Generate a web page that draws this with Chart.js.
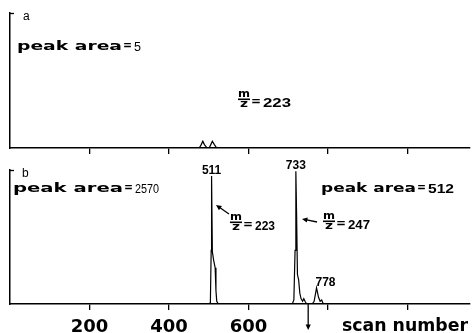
<!DOCTYPE html>
<html>
<head>
<meta charset="utf-8">
<script src="https://cdn.jsdelivr.net/npm/chart.js@4.4.0/dist/chart.umd.min.js"></script>
<style>
    html, body { margin: 0; padding: 0; background: #fff; }
    #wrap { position: relative; width: 473px; height: 333px; overflow: hidden; }
    canvas { position: absolute; left: 0; }
</style>
</head>
<body>
<div id="wrap">
    <canvas id="chart-a" width="473" height="165" style="top:0"></canvas>
    <canvas id="chart-b" width="473" height="173" style="top:160px"></canvas>
</div>
<script>
// Panel a: scan number vs relative intensity
const scanA = [0, 476, 481, 485, 489, 495, 501, 505, 509, 514, 520, 1157];
const intensityA = [0, 0, 2.5, 5, 2.5, 0.3, 0, 2.5, 5, 2.5, 0, 0];

// Panel b
const scanB = [0, 500, 504, 506, 507, 509, 512, 516, 518, 520, 524,
    710, 714, 717, 719, 721, 723, 726, 729, 732, 736, 739, 742, 746,
    760, 765, 771, 776, 780, 784, 788, 1157];
const intensityB = [0, 0, 1, 40, 95.5, 39, 33, 27, 10, 2, 0,
    0, 3, 40, 99, 64, 22, 18, 8, 4, 2, 4, 2, 0,
    0, 2, 12, 5, 2, 3, 0, 0];

const peakScans = [507, 719, 771];
const peakHeights = [95.5, 99, 12];
const peakLabels = ['511', '733', '778'];

const tickLabels = ['200', '400', '600'];
const peakAreaA = '5';
const peakAreaB = ['2570', '512'];
const mzLabels = ['223', '223', '247'];
const markerScan = 750;

const xMax = 1157;
const TEXT_BOLD = '"DejaVu Sans", sans-serif';
const TEXT_PLAIN = '"Liberation Sans", Arial, sans-serif';

function toPoints(xs, ys) {
    return xs.map((x, i) => ({ x: x, y: ys[i] }));
}

// draw text squeezed/stretched horizontally to a given width
function stretchText(ctx, text, x, y, width, font) {
    ctx.save();
    ctx.font = font;
    const natural = ctx.measureText(text).width;
    ctx.translate(x, y);
    ctx.scale(width / natural, 1);
    ctx.textAlign = 'left';
    ctx.textBaseline = 'alphabetic';
    ctx.fillStyle = '#000';
    ctx.fillText(text, 0, 0);
    ctx.restore();
}

function drawPeakArea(ctx, x, y, wordsWidth, value, valueWidth, valueFont) {
    stretchText(ctx, 'peak area', x, y, wordsWidth, 'bold 13px ' + TEXT_BOLD);
    stretchText(ctx, '=', x + wordsWidth + 1, y - 1, 9, 'bold 13px ' + TEXT_BOLD);
    stretchText(ctx, value, x + wordsWidth + 12, y + 1, valueWidth, valueFont);
}

function drawMZ(ctx, x, yBar, value, valueWidth) {
    stretchText(ctx, 'm', x, yBar - 2, 12, 'bold 10px ' + TEXT_BOLD);
    ctx.fillStyle = '#000';
    ctx.fillRect(x, yBar - 0.5, 12, 1.6);
    stretchText(ctx, 'z', x + 2, yBar + 8, 8, 'bold 10px ' + TEXT_BOLD);
    stretchText(ctx, '=', x + 13, yBar + 6, 10, 'bold 13px ' + TEXT_BOLD);
    stretchText(ctx, value, x + 25, yBar + 8, valueWidth, 'bold 12px ' + TEXT_PLAIN);
}

function drawArrow(ctx, x1, y1, x2, y2, head) {
    const ang = Math.atan2(y2 - y1, x2 - x1);
    ctx.save();
    ctx.strokeStyle = '#000';
    ctx.fillStyle = '#000';
    ctx.lineWidth = 1.3;
    ctx.beginPath();
    ctx.moveTo(x1, y1);
    ctx.lineTo(x2 - Math.cos(ang) * head * 0.6, y2 - Math.sin(ang) * head * 0.6);
    ctx.stroke();
    ctx.beginPath();
    ctx.moveTo(x2, y2);
    ctx.lineTo(x2 - head * Math.cos(ang - 0.45), y2 - head * Math.sin(ang - 0.45));
    ctx.lineTo(x2 - head * Math.cos(ang + 0.45), y2 - head * Math.sin(ang + 0.45));
    ctx.closePath();
    ctx.fill();
    ctx.restore();
}

// little cap on top of the left axis
function drawAxisCap(chart) {
    const { ctx, chartArea } = chart;
    ctx.save();
    ctx.strokeStyle = '#000';
    ctx.lineWidth = 1.3;
    ctx.beginPath();
    ctx.moveTo(chartArea.left - 1, chartArea.top + 0.5);
    ctx.lineTo(chartArea.left + 4, chartArea.top + 0.5);
    ctx.stroke();
    ctx.restore();
}

const notesA = {
    id: 'notesA',
    afterDraw(chart) {
        const ctx = chart.ctx;
        drawAxisCap(chart);
        ctx.save();
        ctx.fillStyle = '#000';
        ctx.font = '12px ' + TEXT_PLAIN;
        ctx.fillText('a', 23, 20);
        ctx.restore();
        drawPeakArea(ctx, 17, 50, 105, peakAreaA, 7, '12px ' + TEXT_PLAIN);
        drawMZ(ctx, 238, 99, mzLabels[0], 28);
    }
};

const notesB = {
    id: 'notesB',
    afterDraw(chart) {
        const ctx = chart.ctx;
        const xs = chart.scales.x;
        const ys = chart.scales.y;
        drawAxisCap(chart);

        ctx.save();
        ctx.fillStyle = '#000';
        ctx.font = '12px ' + TEXT_PLAIN;
        ctx.fillText('b', 22, 17);
        ctx.restore();

        drawPeakArea(ctx, 13, 32, 110, peakAreaB[0], 24, '12px ' + TEXT_PLAIN);
        drawPeakArea(ctx, 321, 32, 95, peakAreaB[1], 26, 'bold 12px ' + TEXT_PLAIN);

        // peak labels sit on the peak tops
        ctx.save();
        ctx.fillStyle = '#000';
        ctx.font = 'bold 12px ' + TEXT_PLAIN;
        ctx.textAlign = 'center';
        peakLabels.forEach((label, i) => {
            const px = xs.getPixelForValue(peakScans[i]) + (i === 2 ? 9 : 0);
            const py = ys.getPixelForValue(peakHeights[i]) - 2;
            ctx.fillText(label, px, py);
        });
        ctx.restore();

        drawArrow(ctx, 229, 54, 216, 45, 6);
        drawMZ(ctx, 230, 62, mzLabels[1], 20);
        drawArrow(ctx, 317, 62, 302, 59, 6);
        drawMZ(ctx, 323, 61, mzLabels[2], 22);

        // downward arrow under the axis
        const mx = xs.getPixelForValue(markerScan);
        drawArrow(ctx, mx, chart.chartArea.bottom, mx, chart.chartArea.bottom + 26, 6);

        // axis title on the tick-label line
        stretchText(ctx, 'scan number', 342, 171, 126, 'bold 18px ' + TEXT_BOLD);
    }
};

function baseOptions(showLabels, xHeight, padTop) {
    return {
        responsive: false,
        animation: false,
        layout: { padding: { top: padTop, right: 3, left: 0, bottom: 0 } },
        plugins: { legend: { display: false }, tooltip: { enabled: false } },
        elements: { point: { radius: 0 }, line: { tension: 0 } },
        scales: {
            x: {
                type: 'linear',
                min: 0,
                max: xMax,
                afterBuildTicks(scale) {
                    scale.ticks = scale.ticks.filter(t => t.value > 0 && t.value % 200 === 0);
                },
                afterFit(scale) { scale.height = xHeight; },
                ticks: {
                    display: showLabels,
                    stepSize: 200,
                    padding: 7,
                    color: '#000',
                    maxRotation: 0,
                    autoSkip: false,
                    font: { family: 'DejaVu Sans', size: 18, weight: 'bold' },
                    callback: v => tickLabels.includes(String(v)) ? String(v) : ''
                },
                grid: {
                    display: true,
                    drawOnChartArea: false,
                    drawTicks: true,
                    tickLength: 6,
                    color: '#000',
                    lineWidth: 1.3
                },
                border: { display: true, color: '#000', width: 1.5 }
            },
            y: {
                min: 0,
                max: 100,
                afterFit(scale) { scale.width = 10; },
                ticks: { display: false },
                grid: { display: false },
                border: { display: true, color: '#000', width: 1.5 }
            }
        }
    };
}

new Chart(document.getElementById('chart-a'), {
    type: 'line',
    data: {
        datasets: [{
            data: toPoints(scanA, intensityA),
            borderColor: '#000',
            borderWidth: 1.2,
            fill: false
        }]
    },
    options: baseOptions(false, 17, 13),
    plugins: [notesA]
});

new Chart(document.getElementById('chart-b'), {
    type: 'line',
    data: {
        datasets: [{
            data: toPoints(scanB, intensityB),
            borderColor: '#000',
            borderWidth: 1.2,
            fill: false
        }]
    },
    options: baseOptions(true, 29, 10),
    plugins: [notesB]
});
</script>
</body>
</html>
